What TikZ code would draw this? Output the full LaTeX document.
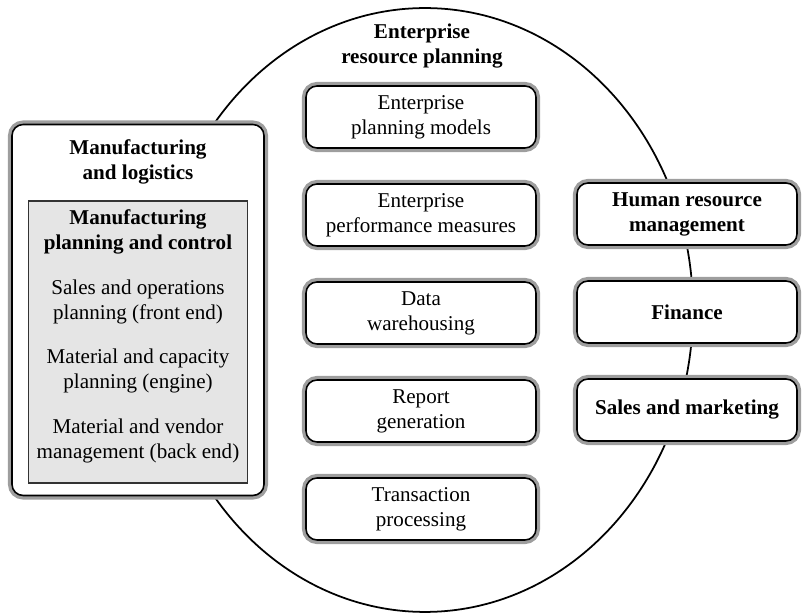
\documentclass[tikz,border=0pt]{standalone}
\usepackage{fontspec}
\setmainfont{Liberation Serif}
\usetikzlibrary{positioning}

\begin{document}
\begin{tikzpicture}[x=0.02cm, y=-0.02cm,
		every node/.style={font=\fontsize{12}{14.2}\selectfont, align=center},
		erpbox/.style={draw=black, line width=0.9pt, fill=white, rounded corners=0.22cm,
			preaction={draw=black!38, line width=4.6pt, rounded corners=0.22cm}},
		midbox/.style={erpbox, minimum width=4.6cm, minimum height=1.24cm},
		sidebox/.style={erpbox, minimum width=4.4cm, minimum height=1.24cm, font=\fontsize{12}{14.2}\selectfont\bfseries},
		mpcbox/.style={draw=black!80, line width=0.7pt, fill=black!10, minimum width=4.38cm, minimum height=5.64cm}]
			\useasboundingbox (0,0) rectangle (802,614);
			
			\draw[line width=1pt] (425,310) ellipse [x radius=5.36cm, y radius=6.04cm];
			\node[font=\fontsize{12}{14.2}\selectfont\bfseries] (erp) at (422,46) {Enterprise\\resource planning};
			
			\node[midbox] (models) at (421,117) {Enterprise\\planning models};
			\node[midbox] (measures) at (421,215) {Enterprise\\performance measures};
			\node[midbox] (warehouse) at (421,313) {Data\\warehousing};
			\node[midbox] (report) at (421,411) {Report\\generation};
			\node[midbox] (transact) at (421,509) {Transaction\\processing};
			
			\node[sidebox] (hr) at (687,214) {Human resource\\management};
			\node[sidebox] (finance) at (687,312) {Finance};
			\node[sidebox] (sales) at (687,410) {Sales and marketing};
			
			\node[erpbox, minimum width=5.04cm, minimum height=7.42cm] (manuf) at (138,310) {};
			\node[font=\fontsize{12}{14.2}\selectfont\bfseries] (manuftitle) at (138,162) {Manufacturing\\and logistics};
			\node[mpcbox] (mpc) at (138,342) {};
			\node[font=\fontsize{12}{14.2}\selectfont\bfseries] (mpctitle) at (138,232) {Manufacturing\\planning and control};
			\node (frontend) at (138,302) {Sales and operations\\planning (front end)};
			\node (engine) at (138,371) {Material and capacity\\planning (engine)};
			\node (backend) at (138,441) {Material and vendor\\management (back end)};
			
		\end{tikzpicture}
\end{document}
